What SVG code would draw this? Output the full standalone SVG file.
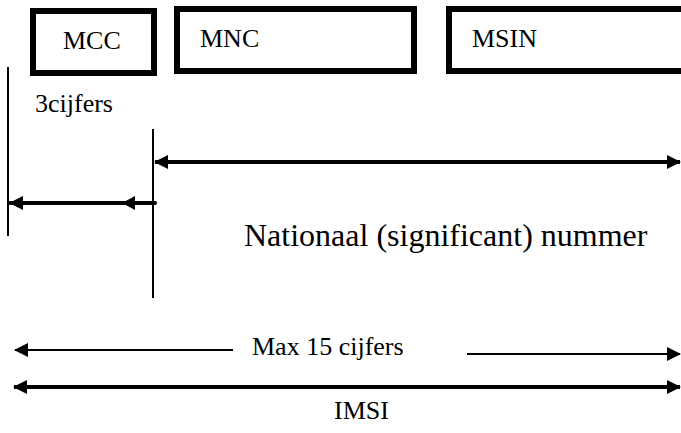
<svg xmlns="http://www.w3.org/2000/svg" width="681" height="433" viewBox="0 0 681 433">
<style>
.t{font-family:'Liberation Serif','Times New Roman',Times,serif;fill:#000}
.box{fill:#fff;stroke:#000;stroke-width:6}
.thin{stroke:#000;stroke-width:2;fill:none}
.thick{stroke:#000;stroke-width:4;fill:none}
</style>
<defs>
<marker id="ah" viewBox="0 0 14 14" refX="13" refY="7" markerWidth="14" markerHeight="14" markerUnits="userSpaceOnUse" orient="auto-start-reverse">
<path d="M0,0 L14,7 L0,14 Z" fill="#000"/>
</marker>
</defs>
<rect width="681" height="433" fill="#fff"/>
<g id="mcc">
<rect class="box" x="33" y="11" width="121" height="62"/>
<text class="t" font-family="Liberation Serif, serif" x="63" y="49" font-size="26">MCC</text>
</g>
<g id="mnc">
<rect class="box" x="177" y="9" width="237" height="62"/>
<text class="t" font-family="Liberation Serif, serif" x="200" y="47" font-size="26">MNC</text>
</g>
<g id="msin">
<rect class="box" x="449" y="9" width="240" height="62"/>
<text class="t" font-family="Liberation Serif, serif" x="472" y="47" font-size="26">MSIN</text>
</g>
<g id="labels">
<text class="t" font-family="Liberation Serif, serif" x="35" y="112" font-size="26">3cijfers</text>
<text class="t" font-family="Liberation Serif, serif" x="244" y="246" font-size="32">Nationaal (significant) nummer</text>
<text class="t" font-family="Liberation Serif, serif" x="252" y="355" font-size="26">Max 15 cijfers</text>
<text class="t" font-family="Liberation Serif, serif" x="334" y="419" font-size="26">IMSI</text>
</g>
<g id="connectors">
<line class="thin" x1="8" y1="67" x2="8" y2="236"/>
<line class="thin" x1="153" y1="129" x2="153" y2="298"/>
<line class="thick" x1="155" y1="162" x2="680" y2="162" marker-start="url(#ah)" marker-end="url(#ah)"/>
<line x1="10" y1="203" x2="155" y2="203" stroke="#000" stroke-width="4" stroke-linecap="round" marker-start="url(#ah)"/>
<path d="M122,203 L135,196 L135,210 Z" fill="#000"/>
<line class="thin" x1="233" y1="350" x2="15" y2="350" marker-end="url(#ah)"/>
<line class="thin" x1="467" y1="354" x2="680" y2="354" marker-end="url(#ah)"/>
<line class="thick" x1="14" y1="387" x2="680" y2="387" marker-start="url(#ah)" marker-end="url(#ah)"/>
</g>
</svg>
